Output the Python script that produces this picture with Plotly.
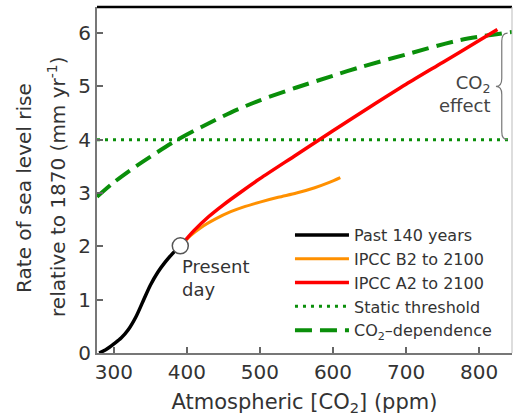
import plotly.graph_objects as go

# ---- data ----
past_x = [280, 290, 300, 310, 320, 330, 340, 350, 360, 370, 380, 390]
past_y = [0.0, 0.07, 0.17, 0.28, 0.44, 0.67, 0.97, 1.27, 1.51, 1.70, 1.86, 2.0]

b2_x = [392, 405, 420, 440, 460, 480, 500, 525, 550, 575, 595, 610]
b2_y = [2.02, 2.2, 2.36, 2.52, 2.65, 2.75, 2.83, 2.92, 3.0, 3.1, 3.2, 3.29]

a2_x = [392, 410, 430, 450, 475, 500, 550, 600, 650, 700, 750, 800, 825]
a2_y = [2.02, 2.3, 2.56, 2.78, 3.03, 3.27, 3.72, 4.17, 4.61, 5.04, 5.45, 5.86, 6.07]

static_x = [277, 845]
static_y = [4.0, 4.0]

co2_x = [277, 300, 330, 360, 386, 420, 460, 500, 550, 600, 637, 700, 774, 845]
co2_y = [2.93, 3.2, 3.5, 3.77, 3.99, 4.24, 4.51, 4.74, 4.98, 5.2, 5.36, 5.6, 5.87, 6.02]

present_x = [391]
present_y = [2.01]

x_ticks = [300, 400, 500, 600, 700, 800]
y_ticks = [0, 1, 2, 3, 4, 5, 6]

names = ["Past 140 years", "IPCC B2 to 2100", "IPCC A2 to 2100",
         "Static threshold", "CO<sub>2</sub>–dependence"]

effect_low, effect_high = 4.0, 6.0

FONT = "DejaVu Sans, Verdana, sans-serif"
GREEN = "#0a8f0a"
TXT = "#333333"

fig = go.Figure()
fig.add_trace(go.Scatter(x=co2_x, y=co2_y, mode="lines", name=names[4], legendrank=5,
                         line=dict(color=GREEN, width=4, dash="17px,8px", shape="spline", smoothing=0.8)))
fig.add_trace(go.Scatter(x=static_x, y=static_y, mode="lines", name=names[3], legendrank=4,
                         line=dict(color=GREEN, width=3, dash="3px,5px")))
fig.add_trace(go.Scatter(x=b2_x, y=b2_y, mode="lines", name=names[1], legendrank=2,
                         line=dict(color="#ff9000", width=3, shape="spline", smoothing=0.8)))
fig.add_trace(go.Scatter(x=a2_x, y=a2_y, mode="lines", name=names[2], legendrank=3,
                         line=dict(color="#ff0000", width=3.5, shape="spline", smoothing=0.8)))
fig.add_trace(go.Scatter(x=past_x, y=past_y, mode="lines", name=names[0], legendrank=1,
                         line=dict(color="#000000", width=3.5, shape="spline", smoothing=0.8)))
fig.add_trace(go.Scatter(x=present_x, y=present_y, mode="markers", showlegend=False,
                         marker=dict(size=16, color="white",
                                     line=dict(color="#555555", width=1.5))))

# curly brace (CO2 effect)
xs, xr, xt = 831, 839, 823
mid = (effect_low + effect_high) / 2
path = (f"M {xr},{effect_high} Q {xs},{effect_high} {xs},{effect_high-0.15} "
        f"L {xs},{mid+0.15} Q {xs},{mid} {xt},{mid} "
        f"Q {xs},{mid} {xs},{mid-0.15} L {xs},{effect_low+0.15} "
        f"Q {xs},{effect_low} {xr},{effect_low}")
fig.add_shape(type="path", path=path, xref="x", yref="y",
              line=dict(color="#777777", width=1.2))

# frame: top black, right light gray
fig.add_shape(type="line", xref="paper", yref="paper", x0=0, x1=1, y0=1, y1=1,
              line=dict(color="black", width=2.5))
fig.add_shape(type="line", xref="paper", yref="paper", x0=1, x1=1, y0=0, y1=1,
              line=dict(color="#bbbbbb", width=1))

fig.add_annotation(x=819, y=4.85, xref="x", yref="y", text="CO<sub>2</sub><br>effect",
                   showarrow=False, xanchor="right", align="right",
                   font=dict(family=FONT, size=18, color="#444444"))
fig.add_annotation(x=390, y=1.41, xref="x", yref="y", text="Present<br>day",
                   showarrow=False, xanchor="left", align="left",
                   font=dict(family=FONT, size=18, color=TXT))

# y-axis title lines
fig.add_annotation(x=-0.176, y=0.477, xref="paper", yref="paper",
                   xanchor="center", yanchor="middle",
                   text="Rate of sea level rise", textangle=-90, showarrow=False,
                   font=dict(family=FONT, size=20, color=TXT))
fig.add_annotation(x=-0.0964, y=0.48, xref="paper", yref="paper",
                   xanchor="center", yanchor="middle",
                   text="relative to 1870 (mm yr<sup>-1</sup>)", textangle=-90, showarrow=False,
                   font=dict(family=FONT, size=20, color=TXT))

fig.update_layout(
    width=514, height=417,
    margin=dict(l=97, r=2, t=7, b=64, autoexpand=False),
    paper_bgcolor="white", plot_bgcolor="white",
    font=dict(family=FONT, color=TXT),
    showlegend=True,
    legend=dict(x=0.465, y=0.39, xanchor="left", yanchor="top",
                bgcolor="rgba(0,0,0,0)", font=dict(family=FONT, size=16, color=TXT),
                itemwidth=54, tracegroupgap=0),
)
fig.update_xaxes(range=[277, 845], tickvals=x_ticks, ticks="inside", ticklen=6,
                 tickcolor="#666666", tickwidth=1.5, showline=True, linecolor="#777777",
                 linewidth=2, showgrid=False, zeroline=False,
                 tickfont=dict(family=FONT, size=20, color=TXT),
                 title=dict(text="Atmospheric [CO<sub>2</sub>] (ppm)", standoff=11,
                            font=dict(family=FONT, size=21, color=TXT)))
fig.update_yaxes(range=[0, 6.49], tickvals=y_ticks, ticks="inside", ticklen=6,
                 tickcolor="#666666", tickwidth=1.5, showline=True, linecolor="#777777",
                 linewidth=2, showgrid=False, zeroline=False,
                 tickfont=dict(family=FONT, size=20, color=TXT))

fig.write_html("out.html", config={"displayModeBar": False},
               post_script="document.body.style.margin='0';")
